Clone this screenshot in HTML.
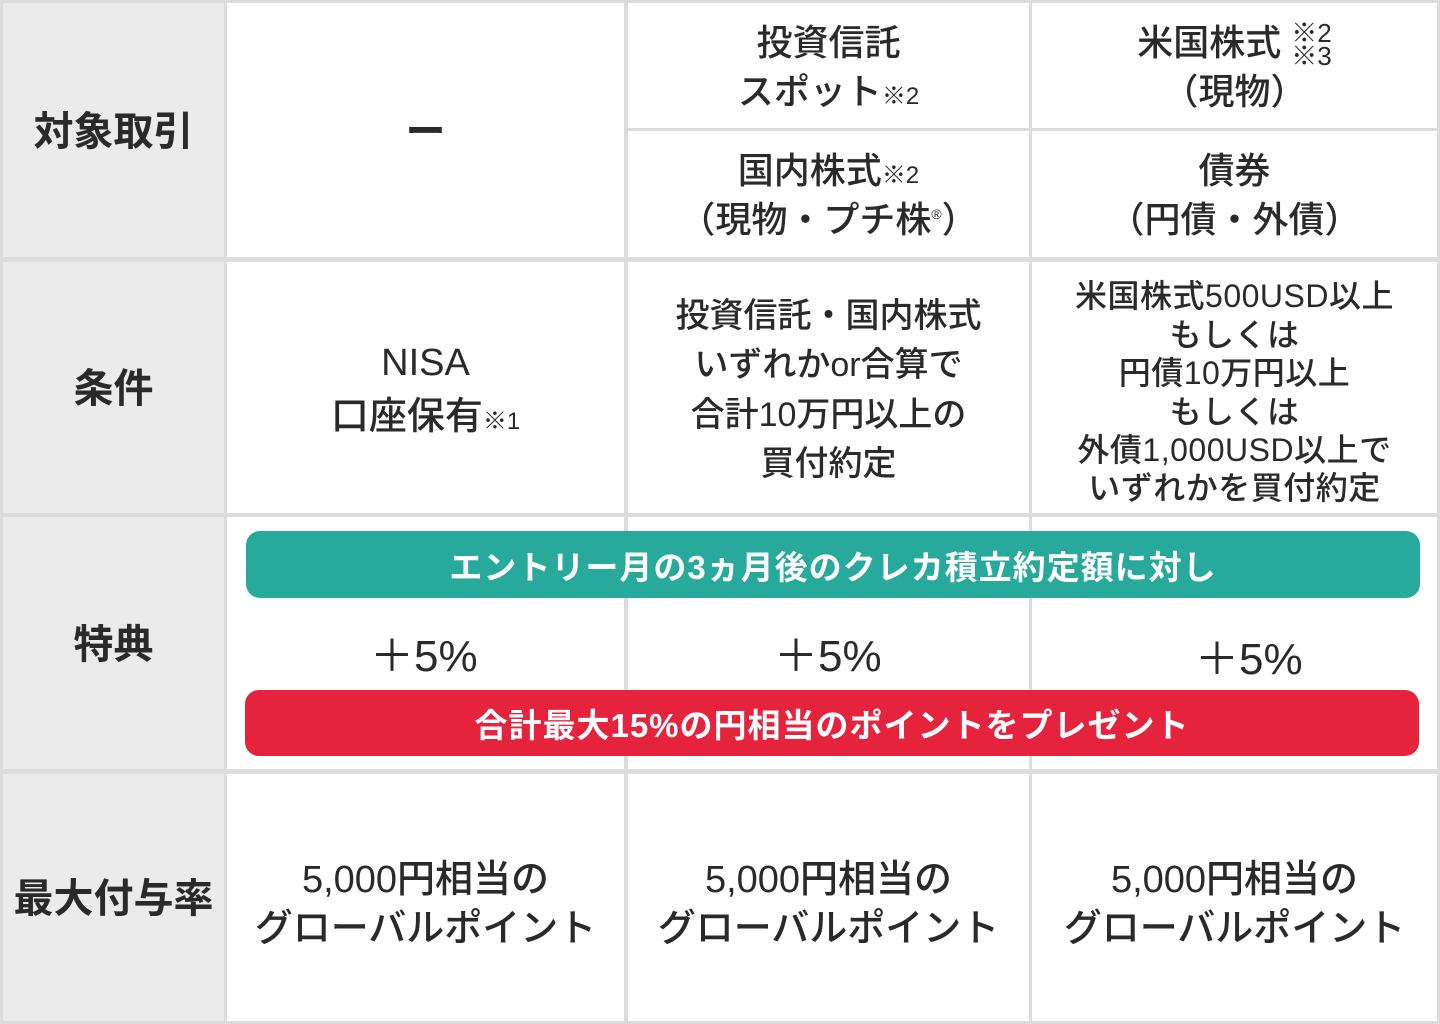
<!DOCTYPE html>
<html><head><meta charset="utf-8"><style>
body{margin:0;width:1440px;height:1024px;background:#dcdcdc;position:relative;overflow:hidden;font-family:"Liberation Sans","Noto Sans CJK JP",sans-serif;color:#2a2a2a}
.c{position:absolute;background:#fff;display:flex;align-items:center;justify-content:center;text-align:center;font-weight:500;font-size:36px;line-height:1.36;font-family:"Liberation Sans","Noto Sans CJK JP",sans-serif;box-sizing:border-box}
.c>div{white-space:nowrap}
.h{background:#ebebeb;font-weight:700;font-size:40px}
.s{font-size:24px}
.bar{position:absolute;border-radius:14px;color:#fff;font-weight:700;font-size:33px;display:flex;align-items:center;justify-content:center;font-family:"Liberation Sans","Noto Sans CJK JP",sans-serif;letter-spacing:1px}
.p{position:absolute;font-size:44px;font-family:"Liberation Sans",sans-serif;font-weight:400}
</style></head><body>
<div class="c h" style="left:3px;top:3px;width:221px;height:254px;padding-top:4px"><div>対象取引</div></div>
<div class="c" style="left:227px;top:3px;width:397px;height:254px;font-size:40px;font-weight:700;padding-top:4px"><div>ー</div></div>
<div class="c" style="left:628px;top:3px;width:401px;height:125px;padding-top:4px"><div>投資信託<br>スポット<span class="s">※2</span></div></div>
<div class="c" style="left:1032px;top:3px;width:405px;height:125px;line-height:1.3;padding-top:4px"><div>米国株式 <span style="display:inline-block;font-size:26px;line-height:0.9;vertical-align:middle;text-align:left">※2<br>※3</span><br>（現物）</div></div>
<div class="c" style="left:628px;top:131px;width:401px;height:126px;padding-top:4px"><div>国内株式<span class="s">※2</span><br>（現物・プチ株<sup style="font-size:14px">®</sup>）</div></div>
<div class="c" style="left:1032px;top:131px;width:405px;height:126px;padding-top:4px"><div>債券<br>（円債・外債）</div></div>

<div class="c h" style="left:3px;top:262px;width:221px;height:251px;padding-top:4px"><div>条件</div></div>
<div class="c" style="left:227px;top:262px;width:397px;height:251px;line-height:1.4;font-size:38px;padding-top:6px"><div>NISA<br>口座保有<span class="s">※1</span></div></div>
<div class="c" style="left:628px;top:262px;width:401px;height:251px;font-size:34px;line-height:1.45;padding-top:6px"><div>投資信託・国内株式<br>いずれかor合算で<br>合計10万円以上の<br>買付約定</div></div>
<div class="c" style="left:1032px;top:262px;width:405px;height:251px;font-size:32px;line-height:1.2;letter-spacing:0.5px;padding-top:10px"><div>米国株式500USD以上<br>もしくは<br>円債10万円以上<br>もしくは<br>外債1,000USD以上で<br>いずれかを買付約定</div></div>

<div class="c h" style="left:3px;top:517px;width:221px;height:252px;padding-top:4px"><div>特典</div></div>
<div class="c" style="left:227px;top:517px;width:397px;height:252px"></div>
<div class="c" style="left:628px;top:517px;width:401px;height:252px"></div>
<div class="c" style="left:1032px;top:517px;width:405px;height:252px"></div>
<div class="bar" style="left:246px;top:531px;width:1174px;height:67px;background:#27a99c">エントリー月の3ヵ月後のクレカ積立約定額に対し</div>
<div class="bar" style="left:245px;top:690px;width:1174px;height:66px;background:#e5233d">合計最大15%の円相当のポイントをプレゼント</div>
<div class="p" style="left:370px;top:620px">＋5%</div>
<div class="p" style="left:774px;top:620px">＋5%</div>
<div class="p" style="left:1195px;top:623px">＋5%</div>

<div class="c h" style="left:3px;top:774px;width:221px;height:247px;padding-top:4px"><div>最大付与率</div></div>
<div class="c" style="left:227px;top:774px;width:397px;height:247px;font-size:38px;line-height:1.28;padding-top:14px"><div>5,000円相当の<br>グローバルポイント</div></div>
<div class="c" style="left:628px;top:774px;width:401px;height:247px;font-size:38px;line-height:1.28;padding-top:14px"><div>5,000円相当の<br>グローバルポイント</div></div>
<div class="c" style="left:1032px;top:774px;width:405px;height:247px;font-size:38px;line-height:1.28;padding-top:14px"><div>5,000円相当の<br>グローバルポイント</div></div>
</body></html>
